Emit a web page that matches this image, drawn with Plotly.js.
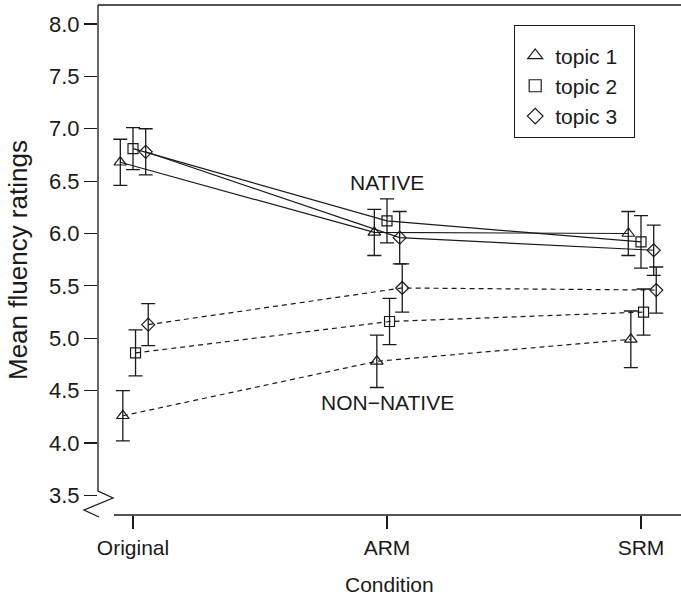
<!DOCTYPE html>
<html>
<head>
<meta charset="utf-8">
<script src="https://cdn.plot.ly/plotly-3.0.1.min.js"></script>
<style>html,body{margin:0;padding:0;background:#fff;}#chart{width:681px;height:597px;}</style>
</head>
<body>
<div id="chart"></div>
<script>
// ---- data ----
const conditions = ["Original", "ARM", "SRM"];
const conditionPos = [1, 2, 3];
const topics = ["topic 1", "topic 2", "topic 3"];

const nativeTopic1 = [6.68, 6.01, 6.00];
const nativeTopic2 = [6.81, 6.12, 5.92];
const nativeTopic3 = [6.78, 5.96, 5.84];
const nativeErr1 = [0.22, 0.22, 0.21];
const nativeErr2 = [0.20, 0.21, 0.25];
const nativeErr3 = [0.22, 0.25, 0.24];

const nonNativeTopic1 = [4.26, 4.78, 4.99];
const nonNativeTopic2 = [4.86, 5.16, 5.25];
const nonNativeTopic3 = [5.13, 5.48, 5.46];
const nonNativeErr1 = [0.24, 0.25, 0.27];
const nonNativeErr2 = [0.22, 0.22, 0.22];
const nonNativeErr3 = [0.20, 0.23, 0.22];

const yTicks = [3.5, 4.0, 4.5, 5.0, 5.5, 6.0, 6.5, 7.0, 7.5, 8.0];
const yTickText = ["3.5", "4.0", "4.5", "5.0", "5.5", "6.0", "6.5", "7.0", "7.5", "8.0"];

// ---- styling ----
const symbols = ["triangle-up-open", "square-open", "diamond-open"];
const sizes = [11, 10, 10];
const nativeOffset = [-0.05, 0, 0.05];
const nonNativeOffset = [-0.04, 0.01, 0.06];
const ink = "#1a1a1a";
const FONT = "Liberation Sans, Arial, sans-serif";
const FS = 21;

const L = 98, T = 5, W = 681, H = 597, B = 82;
const pw = W - L, ph = H - T - B;
const xr = [1 - 35 / 254, 1 + 548 / 254];
const yr = [8 - 491 / 104.75, 8 + 19 / 104.75];
const px = p => (p - L) / pw;       // pixel -> paper x
const py = p => (T + ph - p) / ph;  // pixel -> paper y

function series(vals, errs, k, offs, dash) {
  return {
    x: conditionPos.map(c => c + offs[k]),
    y: vals,
    mode: "lines+markers",
    type: "scatter",
    showlegend: false,
    line: {color: ink, width: 1.2, dash: dash},
    marker: {symbol: symbols[k], size: sizes[k], color: ink, line: {width: 1.2, color: ink}},
    error_y: {type: "data", array: errs, visible: true, color: ink, thickness: 1.3, width: 7},
    cliponaxis: false
  };
}

const traces = [
  series(nativeTopic1, nativeErr1, 0, nativeOffset, "solid"),
  series(nativeTopic2, nativeErr2, 1, nativeOffset, "solid"),
  series(nativeTopic3, nativeErr3, 2, nativeOffset, "solid"),
  series(nonNativeTopic1, nonNativeErr1, 0, nonNativeOffset, "5px,4px"),
  series(nonNativeTopic2, nonNativeErr2, 1, nonNativeOffset, "5px,4px"),
  series(nonNativeTopic3, nonNativeErr3, 2, nonNativeOffset, "5px,4px")
];
topics.forEach((t, k) => {
  traces.push({
    x: [null], y: [null], name: t + "\u00a0\u00a0", mode: "markers", type: "scatter",
    marker: {symbol: symbols[k], size: sizes[k] + 2, color: ink, line: {width: 1.2, color: ink}}
  });
});

const layout = {
  width: W, height: H,
  margin: {l: L, r: 0, t: T, b: B},
  paper_bgcolor: "#fff", plot_bgcolor: "#fff",
  font: {family: FONT, size: FS, color: ink},
  showlegend: true,
  legend: {
    x: px(514), y: py(25), xanchor: "left", yanchor: "top",
    bordercolor: ink, borderwidth: 1.2, bgcolor: "#fff",
    font: {family: FONT, size: FS, color: ink},
    title: {text: " ", font: {size: 7}},
    tracegroupgap: 0
  },
  xaxis: {
    range: xr, showgrid: false, zeroline: false, showline: false,
    tickmode: "array", tickvals: conditionPos, ticktext: conditions,
    ticks: "outside", ticklen: 13, tickwidth: 1.2, tickcolor: ink,
    ticklabelstandoff: 1,
    tickfont: {family: FONT, size: FS, color: ink}
  },
  yaxis: {
    range: yr, showgrid: false, zeroline: false, showline: false,
    tickmode: "array", tickvals: yTicks, ticktext: yTickText,
    ticks: "outside", ticklen: 13, tickwidth: 1.2, tickcolor: ink,
    ticklabelstandoff: 0,
    tickfont: {family: FONT, size: 22, color: ink}
  },
  shapes: [
    {type: "path", xref: "paper", yref: "paper", layer: "above",
     path: `M${px(98)},${py(5)} L${px(98)},${py(491)} L${px(113)},${py(498)} L${px(84)},${py(510)} L${px(99)},${py(517)}`,
     line: {color: ink, width: 1.3}},
    {type: "line", xref: "paper", yref: "paper", layer: "above",
     x0: px(98), x1: 1, y0: py(5), y1: py(5), line: {color: ink, width: 1.3}},
    {type: "line", xref: "paper", yref: "paper", layer: "above",
     x0: px(114), x1: 1, y0: py(515), y1: py(515), line: {color: ink, width: 1.3}}
  ],
  annotations: [
    {text: "NATIVE", x: 2, y: 6.49, xref: "x", yref: "y", showarrow: false,
     font: {family: FONT, size: FS, color: ink}},
    {text: "NON\u2212NATIVE", x: 2, y: 4.39, xref: "x", yref: "y", showarrow: false,
     font: {family: FONT, size: FS, color: ink}},
    {text: "Condition", xref: "paper", yref: "paper", x: 0.5, y: py(584),
     xanchor: "center", yanchor: "middle", showarrow: false,
     font: {family: FONT, size: FS, color: ink}},
    {text: "Mean fluency ratings", xref: "paper", yref: "paper", x: px(18), y: 0.5,
     xanchor: "center", yanchor: "middle", textangle: -90, showarrow: false,
     font: {family: FONT, size: 26, color: ink}}
  ]
};

Plotly.newPlot("chart", traces, layout, {displayModeBar: false, staticPlot: true});
</script>
</body>
</html>
